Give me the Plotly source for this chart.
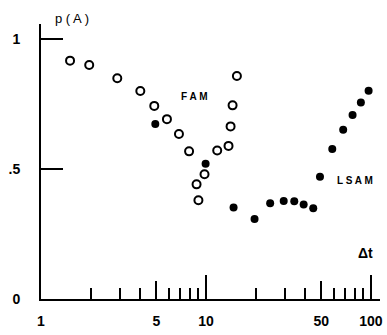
import plotly.graph_objects as go

# FAM (open circles)
fam_x = [1.5, 1.96, 2.9, 4.0, 4.86, 5.8, 6.86, 7.9, 8.77, 9.0, 9.8, 11.7, 13.7, 14.1, 14.5, 15.4]
fam_y = [0.917, 0.90, 0.849, 0.80, 0.743, 0.692, 0.635, 0.568, 0.441, 0.38, 0.48, 0.571, 0.589, 0.664, 0.745, 0.858]

# LSAM (filled circles)
lsam_x = [4.93, 9.95, 14.7, 19.7, 24.5, 29.6, 34.3, 39.1, 44.7, 49.1, 58.3, 67.9, 77.4, 86.9, 96.8]
lsam_y = [0.673, 0.52, 0.352, 0.308, 0.368, 0.377, 0.376, 0.364, 0.349, 0.47, 0.577, 0.651, 0.708, 0.756, 0.801]

x_major = [1, 10, 100]
x_mid = [5, 50]
x_minor = [2, 3, 4, 6, 7, 8, 9, 20, 30, 40, 60, 70, 80, 90]
x_labels = ["1", "10", "100"]
x_mid_labels = ["5", "50"]
y_ticks = [0, 0.5, 1]
y_labels = ["0", ".5", "1"]

FONT = "Liberation Sans"
XR = [0, 2.055]
YR = [0, 1.058]
TICKFONT = dict(family=FONT, size=14, color="black", weight="bold")

fig = go.Figure()
fig.add_trace(go.Scatter(
    x=fam_x, y=fam_y, mode="markers", name="FAM",
    marker=dict(symbol="circle-open", size=8, color="black", line=dict(width=2, color="black")),
    cliponaxis=False))
fig.add_trace(go.Scatter(
    x=lsam_x, y=lsam_y, mode="markers", name="LSAM",
    marker=dict(symbol="circle", size=8, color="black"),
    cliponaxis=False))
# invisible trace on overlay axes to activate them
fig.add_trace(go.Scatter(x=[1], y=[0], xaxis="x2", yaxis="y2", mode="markers",
                         marker=dict(opacity=0), showlegend=False, hoverinfo="skip"))

fig.update_layout(
    width=387, height=335,
    margin=dict(l=41, r=7, t=24, b=36, autoexpand=False),
    paper_bgcolor="white", plot_bgcolor="white",
    showlegend=False,
    font=dict(family=FONT, color="black"),
    xaxis=dict(
        type="log", range=XR, automargin=False,
        showgrid=False, zeroline=False,
        showline=True, linewidth=2, linecolor="black",
        tickmode="array", tickvals=x_major, ticktext=x_labels,
        ticks="inside", ticklen=24, tickwidth=2, tickcolor="black",
        ticklabelstandoff=8, tickfont=TICKFONT,
        minor=dict(tickmode="array", tickvals=x_minor, ticks="inside",
                   ticklen=11, tickwidth=1.5, tickcolor="black", showgrid=False),
    ),
    xaxis2=dict(
        type="log", overlaying="x", anchor="y2", range=XR, side="bottom", automargin=False,
        showgrid=False, zeroline=False,
        showline=True, linewidth=2, linecolor="black",
        tickmode="array", tickvals=x_mid, ticktext=x_mid_labels,
        ticks="inside", ticklen=18, tickwidth=2, tickcolor="black",
        ticklabelstandoff=8, tickfont=TICKFONT,
    ),
    yaxis=dict(
        range=YR, automargin=False,
        showgrid=False, zeroline=False,
        showline=True, linewidth=2, linecolor="black",
        tickmode="array", tickvals=y_ticks, ticktext=y_labels,
        ticks="inside", ticklen=22, tickwidth=2, tickcolor="black",
        ticklabelstandoff=16, tickfont=TICKFONT,
    ),
    yaxis2=dict(
        range=YR, overlaying="y", anchor="x2", side="left", automargin=False,
        showgrid=False, zeroline=False,
        showline=True, linewidth=2, linecolor="black",
        showticklabels=False, ticks="",
    ),
    annotations=[
        dict(x=(72 - 41) / 339, y=(299 - 18) / 275, xref="paper", yref="paper", text="p ( A )",
             showarrow=False, xanchor="center", yanchor="middle",
             font=dict(family=FONT, size=13, color="black")),
        dict(x=0.927, y=0.78, xref="x", yref="y", text="F A M", showarrow=False,
             font=dict(family=FONT, size=10, color="black", weight="bold")),
        dict(x=1.903, y=0.454, xref="x", yref="y", text="L S A M", showarrow=False,
             font=dict(family=FONT, size=10, color="black", weight="bold")),
        dict(x=1.97, y=0.177, xref="x", yref="y", text="Δt", showarrow=False,
             font=dict(family=FONT, size=14, color="black", weight="bold")),
    ],
)

fig.write_html("out.html", config={"displayModeBar": False},
               post_script="document.body.style.margin='0';document.body.style.padding='0';")
